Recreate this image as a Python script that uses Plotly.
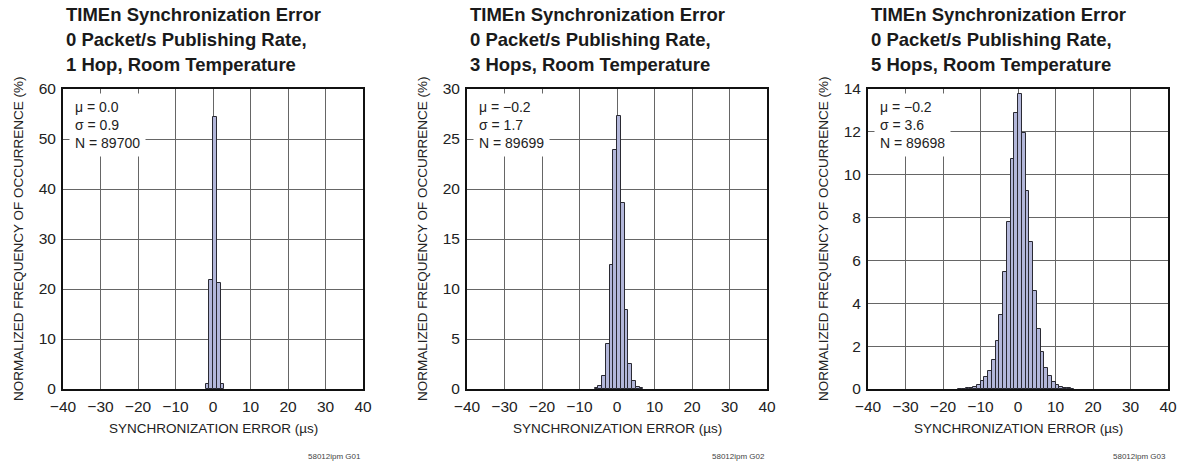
import plotly.graph_objects as go

# ---------------- data ----------------
hop1_bins = [-1.5, -0.5, 0.5, 1.5, 2.5]
hop1_freq = [1.0, 21.8, 54.5, 21.3, 1.0]

hop3_bins = [-5.5, -4.5, -3.5, -2.5, -1.5, -0.5, 0.5, 1.5, 2.5, 3.5, 4.5, 5.5, 6.5]
hop3_freq = [0.08, 0.27, 1.34, 4.5, 12.4, 23.9, 27.3, 18.6, 7.9, 2.5, 0.77, 0.2, 0.06]

hop5_bins = [-15.5, -14.5, -13.5, -12.5, -11.5, -10.5, -9.5, -8.5, -7.5, -6.5, -5.5,
             -4.5, -3.5, -2.5, -1.5, -0.5, 0.5, 1.5, 2.5, 3.5, 4.5, 5.5, 6.5, 7.5,
             8.5, 9.5, 10.5, 11.5, 12.5, 13.5, 14.5]
hop5_freq = [0.01, 0.02, 0.03, 0.05, 0.09, 0.17, 0.36, 0.56, 0.86, 1.35, 2.22,
             3.46, 5.47, 7.78, 10.73, 12.88, 13.77, 11.97, 9.25, 6.88, 4.57, 2.8,
             1.75, 1.0, 0.6, 0.32, 0.17, 0.09, 0.05, 0.03, 0.01]

titles = [
    ["TIMEn Synchronization Error", "0 Packet/s Publishing Rate,", "1 Hop, Room Temperature"],
    ["TIMEn Synchronization Error", "0 Packet/s Publishing Rate,", "3 Hops, Room Temperature"],
    ["TIMEn Synchronization Error", "0 Packet/s Publishing Rate,", "5 Hops, Room Temperature"],
]
stats = [
    ["\u03bc = 0.0", "\u03c3 = 0.9", "N = 89700"],
    ["\u03bc = \u22120.2", "\u03c3 = 1.7", "N = 89699"],
    ["\u03bc = \u22120.2", "\u03c3 = 3.6", "N = 89698"],
]
footnotes = ["58012ipm G01", "58012ipm G02", "58012ipm G03"]
y_ranges = [[0, 60], [0, 30], [0, 14]]
y_dticks = [10, 5, 2]
x_range = [-40, 40]
x_dtick = 10
x_title = "SYNCHRONIZATION ERROR (\u00b5s)"
y_title = "NORMALIZED FREQUENCY OF OCCURRENCE (%)"

# ---------------- style ----------------
W, H = 1180, 465
FONT = "Liberation Sans, Arial, Helvetica, sans-serif"
BAR_FILL = "#b3b7da"
BAR_LINE = "#2a2a33"
GRID = "#666666"
TXT = "#222222"

plot_left_px = [63, 467, 868]
plot_w_px = 300
plot_top_px, plot_bot_px = 89, 389

def px_x(p):
    return p / W

def px_y(p):
    return 1 - p / H

fig = go.Figure()

series = [(hop1_bins, hop1_freq), (hop3_bins, hop3_freq), (hop5_bins, hop5_freq)]

layout = dict(
    width=W, height=H,
    margin=dict(l=0, r=0, t=0, b=0, autoexpand=False),
    paper_bgcolor="white", plot_bgcolor="white",
    showlegend=False, bargap=0,
    font=dict(family=FONT, color=TXT, size=15),
)

annotations = []

for i, (bins, freq) in enumerate(series):
    n = "" if i == 0 else str(i + 1)
    xa, ya = "x" + n, "y" + n
    fig.add_trace(go.Bar(
        x=bins, y=freq, width=1,
        marker=dict(color=BAR_FILL, line=dict(color=BAR_LINE, width=1)),
        xaxis=xa, yaxis=ya, hoverinfo="x+y",
    ))
    dom_x = [px_x(plot_left_px[i]), px_x(plot_left_px[i] + plot_w_px)]
    dom_y = [px_y(plot_bot_px), px_y(plot_top_px)]
    layout["xaxis" + n] = dict(
        domain=dom_x, range=x_range, dtick=x_dtick, tick0=0,
        showgrid=True, gridcolor=GRID, gridwidth=1,
        showline=True, linecolor="#111", linewidth=2, mirror=True,
        zeroline=False, ticks="", ticklabelstandoff=2, automargin=False,
        tickfont=dict(size=15.5, family=FONT, color=TXT),
        anchor=ya, fixedrange=True,
    )
    layout["yaxis" + n] = dict(
        domain=dom_y, range=y_ranges[i], dtick=y_dticks[i], tick0=0,
        showgrid=True, gridcolor=GRID, gridwidth=1,
        showline=True, linecolor="#111", linewidth=2, mirror=True,
        zeroline=False, ticks="", ticklabelstandoff=2, automargin=False,
        tickfont=dict(size=15.5, family=FONT, color=TXT),
        anchor=xa, fixedrange=True,
    )

    # stats block, white background hides gridlines behind it
    annotations.append(dict(
        text="<br>".join(stats[i]), xref=xa + " domain", yref=ya + " domain",
        x=0.02, y=0.988, xanchor="left", yanchor="top", align="left",
        showarrow=False, bgcolor="white", borderpad=5,
        font=dict(size=14, family=FONT, color=TXT),
    ))

    # titles
    for k, (line, ypx) in enumerate(zip(titles[i], [15, 39.5, 64])):
        annotations.append(dict(
            text="<b>" + line + "</b>", xref="paper", yref="paper",
            x=px_x(plot_left_px[i] + 1), y=px_y(ypx), xanchor="left", yanchor="middle",
            showarrow=False, font=dict(size=18.5, family=FONT, color="#1a1a1a"),
        ))

    # axis titles
    annotations.append(dict(
        text=x_title, xref="paper", yref="paper",
        x=px_x(plot_left_px[i] + plot_w_px / 2), y=px_y(428),
        xanchor="center", yanchor="middle", showarrow=False,
        font=dict(size=13.5, family=FONT, color=TXT),
    ))
    annotations.append(dict(
        text=y_title, xref="paper", yref="paper",
        x=px_x(plot_left_px[i] - 45), y=px_y((plot_top_px + plot_bot_px) / 2),
        xanchor="center", yanchor="middle", textangle=-90, showarrow=False,
        font=dict(size=13.5, family=FONT, color=TXT),
    ))
    annotations.append(dict(
        text=footnotes[i], xref="paper", yref="paper",
        x=px_x(plot_left_px[i] + plot_w_px), y=px_y(456),
        xanchor="right", yanchor="middle", showarrow=False,
        font=dict(size=8, family=FONT, color="#444"),
    ))

layout["annotations"] = annotations
fig.update_layout(**layout)
fig.write_html("out.html")
